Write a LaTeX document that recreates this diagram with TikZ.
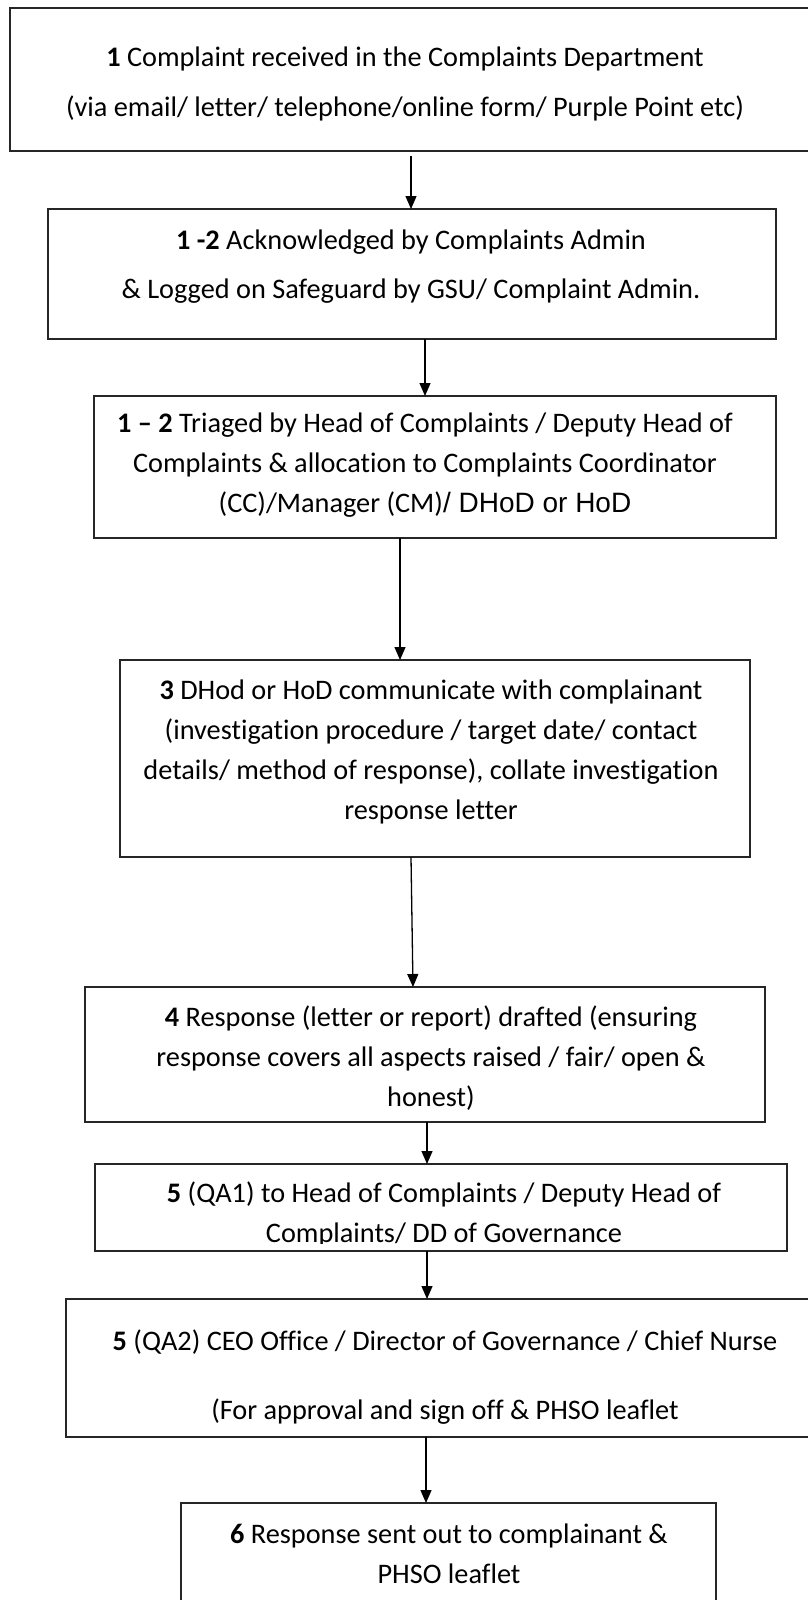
\documentclass[tikz,border=0pt]{standalone}
\usepackage{fontspec}
\setmainfont{Carlito}[Ligatures=NoCommon]
\newfontfamily\arialfont{Liberation Sans}
\usetikzlibrary{arrows.meta,positioning,calc}
\newcommand{\boxfont}{\fontsize{28.3}{40}\selectfont}

\begin{document}
\begin{tikzpicture}[x=1pt,y=-1pt,
    stepbox/.style={draw=black!85,line width=1.4pt,inner sep=0pt,outer sep=0pt},
    txt/.style={align=center,font=\boxfont,inner sep=0pt},
    flow/.style={-{Triangle[width=11pt,length=13pt]},line width=1.3pt}]
  \useasboundingbox (0,0) rectangle (808,1600);
  \clip (0,0) rectangle (808,1600);
  % boxes
  \node[stepbox,minimum width=820,minimum height=143] (b1) at (420,79.5) {};
  \node[stepbox,minimum width=728,minimum height=130] (b2) at (412,274) {};
  \node[stepbox,minimum width=682,minimum height=142] (b3) at (435,467) {};
  \node[stepbox,minimum width=630,minimum height=197] (b4) at (435,758.5) {};
  \node[stepbox,minimum width=680,minimum height=135] (b5) at (425,1054.5) {};
  \node[stepbox,minimum width=692,minimum height=87] (b6) at (441,1207.5) {};
  \node[stepbox,minimum width=764,minimum height=138] (b7) at (448,1368) {};
  \node[stepbox,minimum width=535,minimum height=137] (b8) at (448.5,1571.5) {};
  % texts
  \node[txt] (t1) at (405,84) {\textbf{1} Complaint received in the Complaints Department\\[10pt]
    (via email/ letter/ telephone/online form/ Purple Point etc)};
  \node[txt] (t2) at (411,267) {\textbf{1 -2} Acknowledged by Complaints Admin\\[9pt]
    \& Logged on Safeguard by GSU/ Complaint Admin.};
  \node[txt] (t3) at (425,465) {\textbf{1 -- 2} Triaged by Head of Complaints / Deputy Head of\\
    Complaints \& allocation to Complaints Coordinator\\
    (CC)/Manager (CM){\arialfont\fontsize{28}{40}\selectfont / DHoD or HoD}};
  \node[txt] (t4) at (431,752) {\textbf{3} DHod or HoD communicate with complainant\\
    (investigation procedure / target date/ contact\\
    details/ method of response), collate investigation\\
    response letter};
  \node[txt] (t5) at (431,1058) {\textbf{4} Response (letter or report) drafted (ensuring\\
    response covers all aspects raised / fair/ open \&\\
    honest)};
  \begin{scope}
    \clip (b6.north west) rectangle ([yshift=8]b6.south east);
    \node[txt] (t6) at (444,1214) {\textbf{5} (QA1) to Head of Complaints / Deputy Head of\\
      Complaints/ DD of Governance};
  \end{scope}
  \node[txt] (t7) at (445,1377) {\textbf{5} (QA2) CEO Office / Director of Governance / Chief Nurse\\[29pt]
    (For approval and sign off \& PHSO leaflet};
  \node[txt] (t8) at (449,1554) {\textbf{6} Response sent out to complainant \&\\
    PHSO leaflet};
  % connectors
  \draw[flow] ([xshift=401,yshift=-5]b1.south west) -- ([xshift=363]b2.north west);
  \draw[flow] ([xshift=377]b2.south west) -- ([xshift=331]b3.north west);
  \draw[flow] ([xshift=306]b3.south west) -- ([xshift=280]b4.north west);
  \draw[flow] ([xshift=291]b4.south west) -- ([xshift=328]b5.north west);
  \draw[flow] ([xshift=342]b5.south west) -- ([xshift=332]b6.north west);
  \draw[flow] ([xshift=332]b6.south west) -- ([xshift=361]b7.north west);
  \draw[flow] ([xshift=360]b7.south west) -- ([xshift=245]b8.north west);
\end{tikzpicture}
\end{document}
